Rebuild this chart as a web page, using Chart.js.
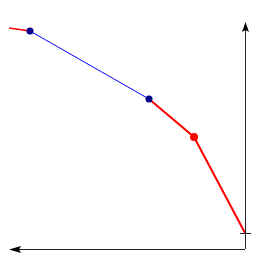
<!DOCTYPE html>
<html>
<head>
<meta charset="utf-8">
<script src="https://cdn.jsdelivr.net/npm/chart.js@4.4.0/dist/chart.umd.min.js"></script>
<style>
  html, body { margin: 0; padding: 0; background: #fff; }
  #wrap { width: 264px; height: 271px; }
</style>
</head>
<body>
<div id="wrap"><canvas id="myChart"></canvas></div>
<script>
const ctx = document.getElementById('myChart');

// datos de la curva (x crece hacia la izquierda)
const valoresX = [236, 215, 96, 51, 0];
const valoresY = [205, 202, 134, 96, 0];
const coloresTramo = ['#ff0000', '#0000ff', '#ff0000', '#ff0000'];
const anchosTramo = [1.5, 1, 2, 2];
const coloresPunto = ['#ff0000', '#00008b', '#00008b', '#ff0000', '#ff0000'];
const radiosPunto = [0, 3.5, 3.5, 4, 0];

// ejes con flechas
const ejes = {
  id: 'ejes',
  afterDatasetsDraw(chart) {
    const c = chart.ctx;
    const { x, y } = chart.scales;
    const x0 = x.getPixelForValue(0);
    const xFin = x.getPixelForValue(x.max);
    const yBase = y.getPixelForValue(y.min);
    const yFin = y.getPixelForValue(y.max);
    const y0 = y.getPixelForValue(0);
    c.save();
    c.strokeStyle = '#222';
    c.fillStyle = '#000';
    c.lineWidth = 1;
    c.beginPath();
    c.moveTo(x0 + 0.5, yBase);
    c.lineTo(x0 + 0.5, yFin + 6);
    c.moveTo(x0, yBase + 0.5);
    c.lineTo(xFin + 6, yBase + 0.5);
    c.moveTo(x0 - 5, y0 + 0.5);
    c.lineTo(x0 + 6, y0 + 0.5);
    c.stroke();
    // flecha arriba
    c.beginPath();
    c.moveTo(x0 + 0.5, yFin);
    c.lineTo(x0 - 3, yFin + 10);
    c.lineTo(x0 + 0.5, yFin + 8);
    c.lineTo(x0 + 4, yFin + 10);
    c.closePath();
    c.fill();
    // flecha izquierda
    c.beginPath();
    c.moveTo(xFin, yBase + 0.5);
    c.lineTo(xFin + 12, yBase - 3);
    c.lineTo(xFin + 10, yBase + 0.5);
    c.lineTo(xFin + 12, yBase + 4);
    c.closePath();
    c.fill();
    c.restore();
  }
};

const myChart = new Chart(ctx, {
  type: 'line',
  data: {
    datasets: [{
      data: valoresX.map((v, i) => ({ x: v, y: valoresY[i] })),
      borderColor: '#ff0000',
      pointBackgroundColor: coloresPunto,
      pointBorderColor: coloresPunto,
      pointRadius: radiosPunto,
      pointBorderWidth: 0,
      tension: 0,
      segment: {
        borderColor: s => coloresTramo[s.p0DataIndex],
        borderWidth: s => anchosTramo[s.p0DataIndex],
      },
    }]
  },
  options: {
    responsive: true,
    maintainAspectRatio: false,
    animation: false,
    events: [],
    plugins: {
      legend: { display: false },
      tooltip: { enabled: false },
    },
    scales: {
      x: { type: 'linear', reverse: true, min: 0, max: 236, display: false },
      y: { type: 'linear', min: -16, max: 211, display: false },
    },
    layout: {
      padding: { left: 9, right: 19, top: 22, bottom: 22 }
    }
  },
  plugins: [ejes]
});
</script>
</body>
</html>
